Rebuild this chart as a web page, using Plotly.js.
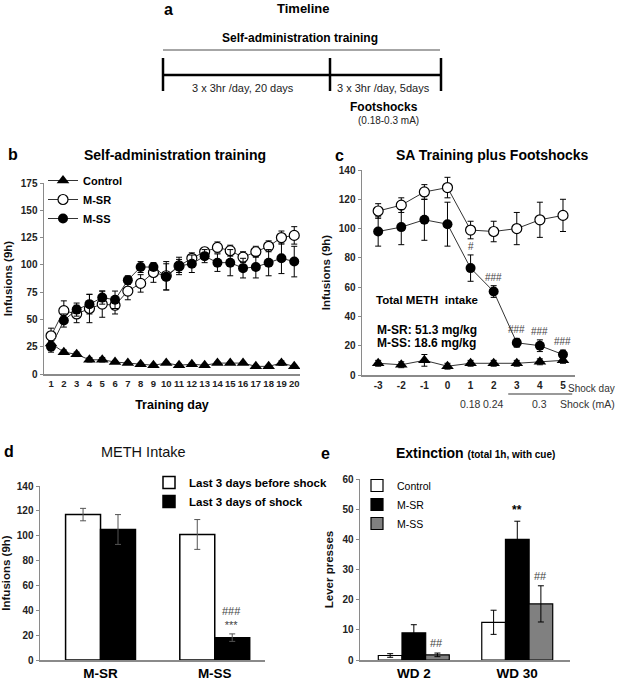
<!DOCTYPE html>
<html><head><meta charset="utf-8">
<script src="https://cdn.plot.ly/plotly-3.0.1.min.js"></script>
<style>html,body{margin:0;padding:0;background:#fff}#chart{width:618px;height:685px}</style>
</head><body><div id="chart"></div>
<script>
// ---------- data ----------
const trainDays = [1,2,3,4,5,6,7,8,9,10,11,12,13,14,15,16,17,18,19,20];
const trainControl    = [28,20,18,13,13,11,10,9,8,10,8,9,8,10,10,10,7,7,10,7];
const trainControlErr = [3,2,2,2,2,1,1,1,1,1,1,1,1,1,1,1,1,1,2,1];
const trainMSR    = [35,58,55,60,64,63,76,83,93,90,99,106,112,116,113,107,112,117,125,127];
const trainMSRErr = [7,9,8,13,12,8,8,8,9,13,6,5,4,5,5,5,5,5,6,8];
const trainMSS    = [25,49,59,64,70,68,86,98,98,89,99,101,108,102,102,97,98,102,106,103];
const trainMSSErr = [5,6,6,9,6,8,4,5,3,12,8,8,6,8,12,9,10,12,14,14];

const shockDays = [-3,-2,-1,0,1,2,3,4,5];
const fsControl    = [8,7,10,6,8,8,8,9,10];
const fsControlErr = [2,2,4,2,2,2,2,2,2];
const fsMSR    = [112,116,125,128,99,98,100,106,109];
const fsMSRErr = [5,5,5,7,6,7,11,12,11];
const fsMSS    = [98,101,106,103,73,57,22,20,14];
const fsMSSErr = [10,12,14,15,9,4,3,4,3];
const fsSigText = ['','','','','#','###','###','###','###'];
const shockLabelDays = [1,2,4];
const shockLabelText = ['0.18','0.24','0.3'];
const shockRangeDays = [3,5];

const intakeGroups = ['M-SR','M-SS'];
const intakeBefore    = [117,101];
const intakeBeforeErr = [5,12];
const intakeShock     = [105,18];
const intakeShockErr  = [12,3];
const intakeSig = ['','###<br>***'];

const extGroups = ['WD 2','WD 30'];
const extControl    = [1.5,12.5];
const extControlErr = [0.6,4];
const extMSR    = [9,40];
const extMSRErr = [2.7,6];
const extMSS    = [1.7,18.6];
const extMSSErr = [0.6,6];
const extMSRSig = ['','**'];
const extMSSSig = ['##','##'];

// ---------- helpers ----------
const W = 618, H = 685;
const FONT = 'Liberation Sans, Arial, sans-serif';
const px = x => x / W;
const py = y => 1 - y / H;
const err = (a, c) => ({type:'data', array:a, visible:true, color:c||'#000', thickness:1, width:3});
const axisBase = {showline:true, linecolor:'#8a8a8a', linewidth:1.5, showgrid:false, zeroline:false,
                  ticks:'outside', ticklen:3, tickcolor:'#8a8a8a',
                  tickfont:{family:FONT, size:10, weight:'bold', color:'#222'}};
const ytitle = t => ({text:t, font:{family:FONT, size:11.5, weight:'bold', color:'#111'}, standoff:6});

const traces = [
  // panel b
  {x:trainDays, y:trainControl, error_y:err(trainControlErr), type:'scatter', mode:'lines+markers', name:'Control',
   xaxis:'x', yaxis:'y', legend:'legend',
   line:{color:'#333', width:1}, marker:{symbol:'triangle-up', size:11, color:'#000'}},
  {x:trainDays, y:trainMSR, error_y:err(trainMSRErr), type:'scatter', mode:'lines+markers', name:'M-SR',
   xaxis:'x', yaxis:'y', legend:'legend',
   line:{color:'#333', width:1}, marker:{symbol:'circle', size:10, color:'#fff', line:{color:'#000', width:1.2}}},
  {x:trainDays, y:trainMSS, error_y:err(trainMSSErr), type:'scatter', mode:'lines+markers', name:'M-SS',
   xaxis:'x', yaxis:'y', legend:'legend',
   line:{color:'#333', width:1}, marker:{symbol:'circle', size:10, color:'#000'}},
  // panel c
  {x:shockDays, y:fsControl, error_y:err(fsControlErr), type:'scatter', mode:'lines+markers', name:'Control',
   xaxis:'x2', yaxis:'y2', showlegend:false,
   line:{color:'#333', width:1}, marker:{symbol:'triangle-up', size:11, color:'#000'}},
  {x:shockDays, y:fsMSR, error_y:err(fsMSRErr), type:'scatter', mode:'lines+markers', name:'M-SR',
   xaxis:'x2', yaxis:'y2', showlegend:false,
   line:{color:'#333', width:1}, marker:{symbol:'circle', size:10, color:'#fff', line:{color:'#000', width:1.2}}},
  {x:shockDays, y:fsMSS, error_y:err(fsMSSErr), type:'scatter', mode:'lines+markers', name:'M-SS',
   xaxis:'x2', yaxis:'y2', showlegend:false,
   line:{color:'#333', width:1}, marker:{symbol:'circle', size:10, color:'#000'}},
  // panel d
  {x:intakeGroups, y:intakeBefore, error_y:err(intakeBeforeErr,'#555'), type:'bar', name:'Last 3 days before shock',
   xaxis:'x3', yaxis:'y3', legend:'legend2', width:0.306, offset:-0.306,
   marker:{color:'#fff', line:{color:'#000', width:1.5}}},
  {x:intakeGroups, y:intakeShock, error_y:err(intakeShockErr,'#555'), type:'bar', name:'Last 3 days of shock',
   xaxis:'x3', yaxis:'y3', legend:'legend2', width:0.306, offset:0,
   marker:{color:'#000', line:{color:'#000', width:1.5}}},
  // panel e
  {x:extGroups, y:extControl, error_y:err(extControlErr), type:'bar', name:'Control',
   xaxis:'x4', yaxis:'y4', legend:'legend3', width:0.229, offset:-0.343,
   marker:{color:'#fff', line:{color:'#000', width:1.2}}},
  {x:extGroups, y:extMSR, error_y:err(extMSRErr), type:'bar', name:'M-SR',
   xaxis:'x4', yaxis:'y4', legend:'legend3', width:0.229, offset:-0.114,
   marker:{color:'#000', line:{color:'#000', width:1.2}}},
  {x:extGroups, y:extMSS, error_y:err(extMSSErr), type:'bar', name:'M-SS',
   xaxis:'x4', yaxis:'y4', legend:'legend3', width:0.229, offset:0.114,
   marker:{color:'#808080', line:{color:'#000', width:1.2}}}
];

const ann = [];
const shapes = [];
const A = (o) => ann.push(Object.assign({showarrow:false, xref:'paper', yref:'paper', xanchor:'center', yanchor:'middle',
                                         font:{family:FONT, size:11, color:'#000'}}, o));

// panel a: timeline
A({x:px(168), y:py(9), text:'a', font:{family:FONT, size:16, weight:'bold'}});
A({x:px(303), y:py(8), text:'Timeline', font:{family:FONT, size:13, weight:'bold'}});
A({x:px(300), y:py(38), text:'Self-administration training', font:{family:FONT, size:12, weight:'bold'}});
A({x:px(243), y:py(88), text:'3 x 3hr /day, 20 days', font:{family:FONT, size:11, color:'#222'}});
A({x:px(384), y:py(88), text:'3 x 3hr /day, 5days', font:{family:FONT, size:11, color:'#222'}});
A({x:px(384), y:py(107), text:'Footshocks', font:{family:FONT, size:12, weight:'bold'}});
A({x:px(388), y:py(121), text:'(0.18-0.3 mA)', font:{family:FONT, size:10, color:'#222'}});
shapes.push({type:'line', xref:'paper', yref:'paper', x0:px(163), x1:px(440), y0:py(50), y1:py(50), line:{color:'#888', width:1.5}});
shapes.push({type:'line', xref:'paper', yref:'paper', x0:px(163), x1:px(441), y0:py(75), y1:py(75), line:{color:'#000', width:2.5}});
[163, 330, 441].forEach(xx => shapes.push({type:'line', xref:'paper', yref:'paper', x0:px(xx), x1:px(xx), y0:py(58), y1:py(91), line:{color:'#000', width:2.5}}));

// panel b
A({x:px(13), y:py(154), text:'b', font:{family:FONT, size:16, weight:'bold'}});
A({x:px(175), y:py(155), text:'Self-administration training', font:{family:FONT, size:14, weight:'bold'}});

// panel c
A({x:px(339), y:py(155), text:'c', font:{family:FONT, size:16, weight:'bold'}});
A({x:px(492), y:py(155), text:'SA Training plus Footshocks', font:{family:FONT, size:14, weight:'bold'}});
shockDays.forEach((d, i) => { if (fsSigText[i]) A({xref:'x2', yref:'y2', x:d, y:fsMSS[i] + fsMSSErr[i], yanchor:'bottom', yshift:1,
  text:fsSigText[i], font:{family:FONT, size:10, color:'#444'}}); });
A({xref:'x2', yref:'y2', x:-3.2, y:51, xanchor:'left', text:'Total METH  intake', font:{family:FONT, size:11.5, weight:'bold'}});
A({xref:'x2', yref:'y2', x:-3.15, y:31, xanchor:'left', text:'M-SR: 51.3 mg/kg', font:{family:FONT, size:12, weight:'bold'}});
A({xref:'x2', yref:'y2', x:-3.15, y:22, xanchor:'left', text:'M-SS: 18.6 mg/kg', font:{family:FONT, size:12, weight:'bold'}});
A({xref:'x2', x:shockDays[shockDays.length-1], y:py(388), xanchor:'left', xshift:3, text:'Shock day', font:{family:FONT, size:10, color:'#333'}});
shockLabelDays.forEach((d, i) => A({xref:'x2', x:d, y:py(404), text:shockLabelText[i], font:{family:FONT, size:10.5, color:'#333'}}));
A({xref:'x2', x:shockDays[shockDays.length-1], y:py(404), xanchor:'left', xshift:-5, text:'Shock (mA)', font:{family:FONT, size:10.5, color:'#333'}});
shapes.push({type:'line', xref:'x2', yref:'paper', x0:shockRangeDays[0]-0.37, x1:shockRangeDays[1]+0.4, y0:py(394), y1:py(394), line:{color:'#777', width:1.5}});

// panel d
A({x:px(9), y:py(452), text:'d', font:{family:FONT, size:16, weight:'bold'}});
A({x:px(143), y:py(452), text:'METH Intake', font:{family:FONT, size:14.5, color:'#111'}});
intakeGroups.forEach((g, i) => { if (intakeSig[i]) A({xref:'x3', yref:'y3', x:g, xshift:17, y:intakeShock[i] + intakeShockErr[i], yanchor:'bottom', yshift:1,
  text:intakeSig[i], font:{family:FONT, size:11, color:'#444'}}); });

// panel e
A({x:px(325), y:py(453), text:'e', font:{family:FONT, size:16, weight:'bold'}});
A({x:px(475), y:py(453), text:'<b>Extinction</b> <b><span style="font-size:10px">(total 1h, with cue)</span></b>', font:{family:FONT, size:14, color:'#000'}});
extGroups.forEach((g, i) => {
  if (extMSRSig[i]) A({xref:'x4', yref:'y4', x:g, y:extMSR[i] + extMSRErr[i], yanchor:'bottom', yshift:2, text:extMSRSig[i], font:{family:FONT, size:12, weight:'bold'}});
  if (extMSSSig[i]) A({xref:'x4', yref:'y4', x:g, xshift:23, y:extMSS[i] + extMSSErr[i], yanchor:'bottom', yshift:2, text:extMSSSig[i], font:{family:FONT, size:11, color:'#444'}});
});

const layout = {
  width:W, height:H, margin:{l:0, r:0, t:0, b:0}, paper_bgcolor:'#fff', plot_bgcolor:'#fff',
  font:{family:FONT, size:10, color:'#000'},
  barmode:'group',
  xaxis: Object.assign({}, axisBase, {domain:[px(44), px(300)], range:[0.45, 20.45], tickvals:trainDays, ticks:'', anchor:'y', tickangle:0,
    tickfont:{family:FONT, size:9.5, weight:'bold', color:'#222'},
    title:{text:'Training day', font:{family:FONT, size:12.5, weight:'bold'}, standoff:12}}),
  yaxis: Object.assign({}, axisBase, {domain:[py(374), py(183)], range:[0, 175], dtick:25, anchor:'x', title:ytitle('Infusions (9h)')}),
  xaxis2: Object.assign({}, axisBase, {domain:[px(362), px(575)], range:[-3.7, 5.52], tickvals:shockDays, ticktext:shockDays.map(String), ticks:'', anchor:'y2', tickangle:0}),
  yaxis2: Object.assign({}, axisBase, {domain:[py(375), py(170)], range:[0, 140], dtick:20, anchor:'x2', title:ytitle('Infusions (9h)')}),
  xaxis3: Object.assign({}, axisBase, {domain:[px(40), px(265)], type:'category', range:[-0.53, 1.44], ticks:'', anchor:'y3',
    tickfont:{family:FONT, size:13.5, weight:'bold', color:'#000'}}),
  yaxis3: Object.assign({}, axisBase, {domain:[py(660), py(486)], range:[0, 140], dtick:20, anchor:'x3', title:ytitle('Infusions (9h)')}),
  xaxis4: Object.assign({}, axisBase, {domain:[px(360), px(570)], type:'category', range:[-0.52, 1.51], ticks:'', anchor:'y4',
    tickfont:{family:FONT, size:13.5, weight:'bold', color:'#000'}}),
  yaxis4: Object.assign({}, axisBase, {domain:[py(660), py(479)], range:[0, 60], dtick:10, anchor:'x4', title:ytitle('Lever presses')}),
  legend:{x:px(43), y:py(166), xanchor:'left', yanchor:'top', bgcolor:'rgba(0,0,0,0)', itemwidth:30, tracegroupgap:0,
    font:{family:FONT, size:11, weight:'bold', color:'#000'}},
  legend2:{x:px(149), y:py(468), xanchor:'left', yanchor:'top', bgcolor:'rgba(0,0,0,0)', itemwidth:30, tracegroupgap:0,
    font:{family:FONT, size:11.5, weight:'bold', color:'#000'}},
  legend3:{x:px(357), y:py(471), xanchor:'left', yanchor:'top', bgcolor:'rgba(0,0,0,0)', itemwidth:30, tracegroupgap:0,
    font:{family:FONT, size:10.5, color:'#000'}},
  annotations: ann,
  shapes: shapes
};

Plotly.newPlot('chart', traces, layout, {staticPlot:true, displayModeBar:false});
</script></body></html>
